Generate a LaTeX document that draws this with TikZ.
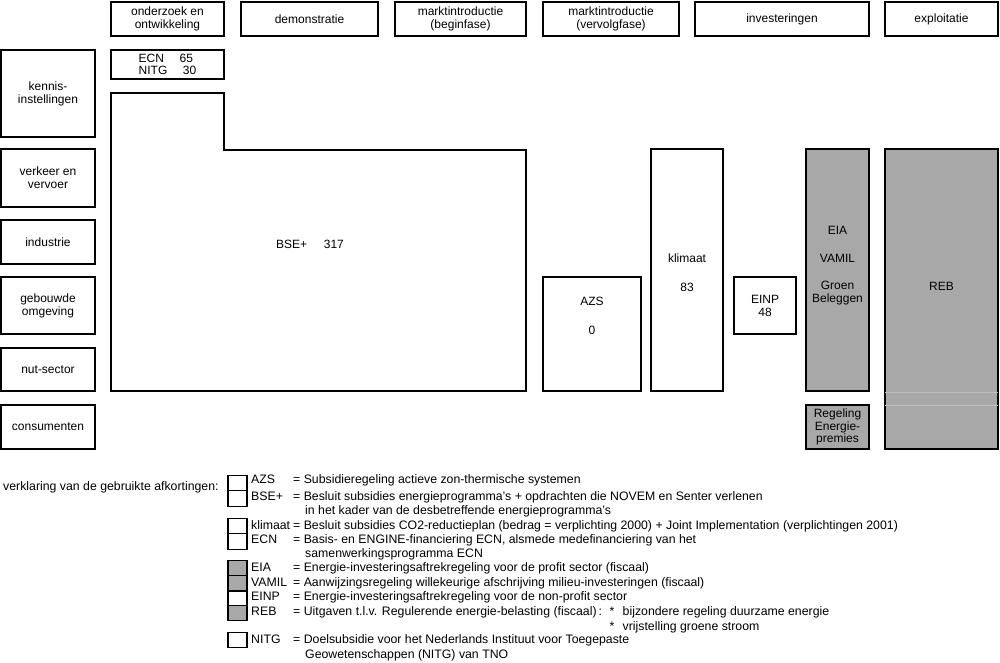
\documentclass[tikz,border=0pt]{standalone}
\usepackage{fontspec}
\setmainfont{Liberation Sans}
\usepackage{tikz}
\usetikzlibrary{calc}

\definecolor{grijs}{HTML}{A8A8A8}

\begin{document}
\begin{tikzpicture}[x=1pt,y=-1pt,
    font=\fontsize{12}{13}\selectfont,
    box/.style={draw,line width=1.5pt,inner sep=0pt,align=center},
    vak/.style={box,fill=grijs},
    txt/.style={inner sep=0pt,align=center},
    lgd/.style={inner sep=0pt,anchor=mid west,font=\fontsize{12.3}{14}\selectfont},
    sbox/.style={draw,line width=1.3pt,minimum width=19,minimum height=15.5,inner sep=0pt}]
    \useasboundingbox (0,0) rectangle (1000,662);
    \node[box,minimum width=113,minimum height=34] (ond) at (167.5,19) {onderzoek en\\ontwikkeling};
    \node[box,minimum width=137,minimum height=34] (dem) at (309.5,19) {demonstratie};
    \node[box,minimum width=131,minimum height=34] (mib) at (460.5,19) {marktintroductie\\(beginfase)};
    \node[box,minimum width=136,minimum height=34] (miv) at (611,19) {marktintroductie\\(vervolgfase)};
    \node[box,minimum width=174,minimum height=34] (inv) at (782,19) {investeringen};
    \node[box,minimum width=113,minimum height=34] (exp) at (941.5,19) {exploitatie};
    \node[box,minimum width=94,minimum height=87] (ken) at (48,93.5) {kennis-\\instellingen};
    \node[box,minimum width=94,minimum height=58] (ver) at (48,178) {verkeer en\\vervoer};
    \node[box,minimum width=94,minimum height=44] (ind) at (48,242) {industrie};
    \node[box,minimum width=94,minimum height=57] (geb) at (48,305.5) {gebouwde\\omgeving};
    \node[box,minimum width=94,minimum height=43] (nut) at (48,369.5) {nut-sector};
    \node[box,minimum width=94,minimum height=44] (con) at (48,427) {consumenten};
    \node[box,minimum width=113,minimum height=29,align=left,font=\fontsize{12}{12}\selectfont] (ecn) at (167.5,64.5) {ECN\hspace{1.3em}65\\NITG\hspace{1.3em}30};
    \draw[line width=1.5pt] (111,93) coordinate (B1) -- (224,93) -- (224,150) -- (526,150) -- (526,391) -- (111,391) -- cycle;
    \node[txt] (bse) at (310,244) {BSE+\hspace{1.4em}317};
    \node[box,minimum width=98,minimum height=114] (azs) at (592,334) {};
    \node[txt] (azsT) at (592,301) {AZS};
    \node[txt] (azsN) at (592,330) {0};
    \node[box,minimum width=72,minimum height=242] (kli) at (687,270) {};
    \node[txt] (kliT) at (687,258) {klimaat};
    \node[txt] (kliN) at (687,287) {83};
    \node[box,minimum width=62,minimum height=57] (einp) at (765,305.5) {EINP\\48};
    \node[vak,minimum width=63,minimum height=242] (eia) at (837.5,270) {};
    \node[txt] (eiaT) at (837.5,230) {EIA};
    \node[txt] (vamT) at (837.5,258) {VAMIL};
    \node[txt] (grT) at (837.5,293.5) {Groen\\Beleggen};
    \node[vak,minimum width=63,minimum height=44,font=\fontsize{12}{12.5}\selectfont] (rep) at (837.5,427) {Regeling\\Energie-\\premies};
    \node[vak,minimum width=113,minimum height=300] (reb) at (941.5,299) {};
    \draw[grijs!75!white,line width=.5pt,shorten <=1pt,shorten >=1pt] (reb.west |- 0,392) -- (reb.east |- 0,392);
    \draw[grijs!75!white,line width=.5pt,shorten <=1pt,shorten >=1pt] (reb.west |- 0,405) -- (reb.east |- 0,405);
    \node[txt] (rebT) at (941.5,286) {REB};

    \node[lgd] (verkl) at (3,488) {verklaring van de gebruikte afkortingen:};
    \node[sbox] (s1) at (237.5,483) {};
    \node[sbox] (s2) at (237.5,498.5) {};
    \node[sbox] (s3) at (237.5,526) {};
    \node[sbox] (s4) at (237.5,541.5) {};
    \node[sbox,fill=grijs] (s5) at (237.5,568.5) {};
    \node[sbox,fill=grijs] (s6) at (237.5,583.5) {};
    \node[sbox] (s7) at (237.5,598) {};
    \node[sbox,fill=grijs] (s8) at (237.5,613) {};
    \node[sbox] (s9) at (237.5,640) {};
    \node[lgd] (aAZS) at (251,481) {AZS};
    \node[lgd] (dAZS) at (293,481) {= Subsidieregeling actieve zon-thermische systemen};
    \node[lgd] (aBSE) at (251,498) {BSE+};
    \node[lgd] (dBSE) at (293,498) {= Besluit subsidies energieprogramma's + opdrachten die NOVEM en Senter verlenen};
    \node[lgd] (dBSE2) at (305,512) {in het kader van de desbetreffende energieprogramma's};
    \node[lgd] (aKLI) at (251,527) {klimaat};
    \node[lgd] (dKLI) at (293,527) {= Besluit subsidies CO2-reductieplan (bedrag = verplichting 2000) + Joint Implementation (verplichtingen 2001)};
    \node[lgd] (aECN) at (251,541) {ECN};
    \node[lgd] (dECN) at (293,541) {= Basis- en ENGINE-financiering ECN, alsmede medefinanciering van het};
    \node[lgd] (dECN2) at (305,555) {samenwerkingsprogramma ECN};
    \node[lgd] (aEIA) at (251,569) {EIA};
    \node[lgd] (dEIA) at (293,569) {= Energie-investeringsaftrekregeling voor de profit sector (fiscaal)};
    \node[lgd] (aVAM) at (251,584) {VAMIL};
    \node[lgd] (dVAM) at (293,584) {= Aanwijzingsregeling willekeurige afschrijving milieu-investeringen (fiscaal)};
    \node[lgd] (aEINP) at (251,598) {EINP};
    \node[lgd] (dEINP) at (293,598) {= Energie-investeringsaftrekregeling voor de non-profit sector};
    \node[lgd] (aREB) at (251,613) {REB};
    \node[lgd] (dREB) at (293,613) {= Uitgaven t.l.v. Regulerende energie-belasting (fiscaal)\,:};
    \node[lgd] (st1) at ($(dREB.mid east)+(7,0)$) {*};
    \node[lgd] (dREB2) at ($(st1.mid east)+(8,0)$) {bijzondere regeling duurzame energie};
    \node[lgd] (st2) at ($(st1.mid west)+(0,14.5)$) {*};
    \node[lgd] (dREB3) at ($(dREB2.mid west)+(0,14.5)$) {vrijstelling groene stroom};
    \node[lgd] (aNITG) at (251,641) {NITG};
    \node[lgd] (dNITG) at (293,641) {= Doelsubsidie voor het Nederlands Instituut voor Toegepaste};
    \node[lgd] (dNITG2) at (305,656) {Geowetenschappen (NITG) van TNO};
\end{tikzpicture}
\end{document}
